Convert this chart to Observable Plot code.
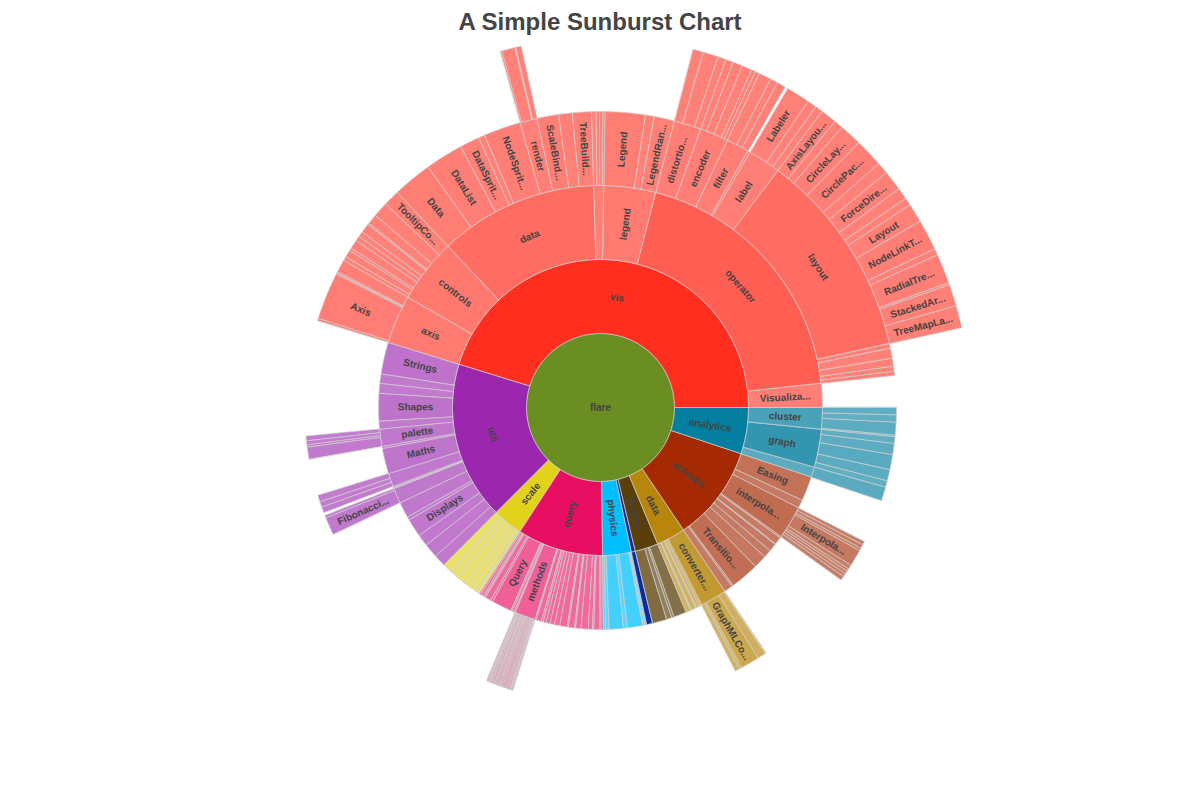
<!DOCTYPE html>
<html><head><meta charset="utf-8">
<script src="https://cdn.jsdelivr.net/npm/d3@7"></script>
<script src="https://cdn.jsdelivr.net/npm/@observablehq/plot@0.6"></script>
<style>
body{margin:0;background:#fff;font-family:"Liberation Sans",Arial,sans-serif;}
#title{height:44px;line-height:44px;text-align:center;font-size:24px;font-weight:bold;color:#444;}
</style></head><body>
<div id="title">A Simple Sunburst Chart</div>
<div id="chart"></div>
<script>
const rootName = "flare";
const rootColor = "#6B8E23";
const categories = ["analytics","animate","data","display","flex","physics","query","scale","util","vis"];
const categoryColors = ["#047FA0","#A52A04","#B8860B","#5A3F08","#0C2C9E","#00BFFF","#E80E62","#E1D31B","#9B27AF","#FF2E1F"];

const analyticsItems = [
  ["cluster/AgglomerativeCluster",3938],["cluster/CommunityStructure",3812],["cluster/HierarchicalCluster",6714],["cluster/MergeEdge",743],
  ["graph/BetweennessCentrality",3534],["graph/LinkDistance",5731],["graph/MaxFlowMinCut",7840],["graph/ShortestPaths",5914],["graph/SpanningTree",3416],
  ["optimization/AspectRatioBanker",7074]];
const animateItems = [
  ["Easing",17010],["FunctionSequence",5842],
  ["interpolate/ArrayInterpolator",1983],["interpolate/ColorInterpolator",2047],["interpolate/DateInterpolator",1375],["interpolate/Interpolator",8746],["interpolate/MatrixInterpolator",2202],["interpolate/NumberInterpolator",1382],["interpolate/ObjectInterpolator",1629],["interpolate/PointInterpolator",1675],["interpolate/RectangleInterpolator",2042],
  ["ISchedulable",1041],["Parallel",5176],["Pause",449],["Scheduler",5593],["Sequence",5534],["Transition",9201],["Transitioner",19975],["TransitionEvent",1116],["Tween",6006]];
const dataItems = [
  ["converters/Converters",721],["converters/DelimitedTextConverter",4294],["converters/GraphMLConverter",9800],["converters/IDataConverter",1314],["converters/JSONConverter",2220],
  ["DataField",1759],["DataSchema",2165],["DataSet",586],["DataSource",3331],["DataTable",772],["DataUtil",3322]];
const displayItems = [["DirtySprite",8833],["LineSprite",1732],["RectSprite",3623],["TextSprite",10066]];
const flexItems = [["FlareVis",4116]];
const physicsItems = [["DragForce",1082],["GravityForce",1336],["IForce",319],["NBodyForce",10498],["Particle",2822],["Simulation",9983],["Spring",2213],["SpringForce",1681]];
const queryItems = [
  ["AggregateExpression",1616],["And",1027],["Arithmetic",3891],["Average",891],["BinaryExpression",2893],["Comparison",5103],["CompositeExpression",3677],["Count",781],["DateUtil",4141],["Distinct",933],["Expression",5130],["ExpressionIterator",3617],["Fn",3240],["If",2732],["IsA",2039],["Literal",1214],["Match",3748],["Maximum",843],
  ["methods/add",593],["methods/and",330],["methods/average",287],["methods/count",277],["methods/distinct",292],["methods/div",595],["methods/eq",594],["methods/fn",460],["methods/gt",603],["methods/gte",625],["methods/iff",748],["methods/isa",461],["methods/lt",597],["methods/lte",619],["methods/max",283],["methods/min",283],["methods/mod",591],["methods/mul",603],["methods/neq",599],["methods/not",386],["methods/or",323],["methods/orderby",307],["methods/range",772],["methods/select",296],["methods/stddev",363],["methods/sub",600],["methods/sum",280],["methods/update",307],["methods/variance",335],["methods/where",299],["methods/xor",354],["methods/_",264],
  ["Minimum",843],["Not",1554],["Or",970],["Query",13896],["Range",1594],["StringUtil",4130],["Sum",791],["Variable",1124],["Variance",1876],["Xor",1101]];
const scaleItems = [["IScaleMap",2105],["LinearScale",1316],["LogScale",3151],["OrdinalScale",3770],["QuantileScale",2435],["QuantitativeScale",4839],["RootScale",1756],["Scale",4268],["ScaleType",1821],["TimeScale",5833]];
const utilItems = [
  ["Arrays",8258],["Colors",10001],["Dates",8217],["Displays",12555],["Filter",2324],["Geometry",10993],
  ["heap/FibonacciHeap",9354],["heap/HeapNode",1233],
  ["IEvaluable",335],["IPredicate",383],["IValueProxy",874],
  ["math/DenseMatrix",3165],["math/IMatrix",2815],["math/SparseMatrix",3366],
  ["Maths",17705],["Orientation",1486],
  ["palette/ColorPalette",6367],["palette/Palette",1229],["palette/ShapePalette",2059],["palette/SizePalette",2291],
  ["Property",5559],["Shapes",19118],["Sort",6887],["Stats",6557],["Strings",22026]];
const visItems = [
  ["axis/Axes",1302],["axis/Axis",24593],["axis/AxisGridLine",652],["axis/AxisLabel",636],["axis/CartesianAxes",6703],
  ["controls/AnchorControl",2138],["controls/ClickControl",3824],["controls/Control",1353],["controls/ControlList",4665],["controls/DragControl",2649],["controls/ExpandControl",2832],["controls/HoverControl",4896],["controls/IControl",763],["controls/PanZoomControl",5222],["controls/SelectionControl",7862],["controls/TooltipControl",8435],
  ["data/Data",20544],["data/DataList",19788],["data/DataSprite",10349],["data/EdgeSprite",3301],["data/NodeSprite",19382],
  ["data/render/ArrowType",698],["data/render/EdgeRenderer",5569],["data/render/IRenderer",353],["data/render/ShapeRenderer",2247],
  ["data/ScaleBinding",11275],["data/Tree",7147],["data/TreeBuilder",9930],
  ["events/DataEvent",2313],["events/SelectionEvent",1880],["events/TooltipEvent",1701],["events/VisualizationEvent",1117],
  ["legend/Legend",20859],["legend/LegendItem",4614],["legend/LegendRange",10530],
  ["operator/distortion/BifocalDistortion",4461],["operator/distortion/Distortion",6314],["operator/distortion/FisheyeDistortion",3444],
  ["operator/encoder/ColorEncoder",3179],["operator/encoder/Encoder",4060],["operator/encoder/PropertyEncoder",4138],["operator/encoder/ShapeEncoder",1690],["operator/encoder/SizeEncoder",1830],
  ["operator/filter/FisheyeTreeFilter",5219],["operator/filter/GraphDistanceFilter",3165],["operator/filter/VisibilityFilter",3509],
  ["operator/IOperator",1286],
  ["operator/label/Labeler",9956],["operator/label/RadialLabeler",3899],["operator/label/StackedAreaLabeler",3202],
  ["operator/layout/AxisLayout",6725],["operator/layout/BundledEdgeRouter",3727],["operator/layout/CircleLayout",9317],["operator/layout/CirclePackingLayout",12003],["operator/layout/DendrogramLayout",4853],["operator/layout/ForceDirectedLayout",8411],["operator/layout/IcicleTreeLayout",4864],["operator/layout/IndentedTreeLayout",3174],["operator/layout/Layout",7881],["operator/layout/NodeLinkTreeLayout",12870],["operator/layout/PieLayout",2728],["operator/layout/RadialTreeLayout",12348],["operator/layout/RandomLayout",870],["operator/layout/StackedAreaLayout",9121],["operator/layout/TreeMapLayout",9191],
  ["operator/Operator",2490],["operator/OperatorList",5248],["operator/OperatorSequence",4190],["operator/OperatorSwitch",2581],["operator/SortOperator",2023],
  ["Visualization",16540]];
const groupItems = [analyticsItems, animateItems, dataItems, displayItems, flexItems, physicsItems, queryItems, scaleItems, utilItems, visItems];

// build hierarchy
function buildTree() {
  const root = {name: rootName, children: []};
  categories.forEach((cat, i) => {
    const node = {name: cat, children: []};
    root.children.push(node);
    for (const [path, size] of groupItems[i]) {
      const parts = path.split("/");
      let cur = node;
      parts.forEach((p, j) => {
        if (j === parts.length - 1) cur.children.push({name: p, value: size});
        else {
          let c = cur.children.find(d => d.name === p && d.children);
          if (!c) { c = {name: p, children: []}; cur.children.push(c); }
          cur = c;
        }
      });
    }
  });
  return root;
}
const hier = d3.hierarchy(buildTree()).sum(d => d.value || 0);
d3.partition().size([2 * Math.PI, hier.height + 1])(hier);

const ring = 74;
function colorOf(n) {
  if (n.depth === 0) return rootColor;
  const top = n.ancestors().find(d => d.depth === 1);
  const base = categoryColors[categories.indexOf(top.data.name)];
  if (n.depth === 1) return base;
  const k = 0.4 - 0.4 * n.value / top.value;
  return d3.interpolateRgb(base, "#ffffff")(k);
}
function norm(deg) {
  let r = ((deg % 360) + 360) % 360;
  if (r > 90 && r < 270) r -= 180;
  else if (r >= 270) r -= 360;
  return r;
}

const polys = [];
const labels = [];
hier.descendants().forEach((n, idx) => {
  const fill = colorOf(n);
  const r0 = n.y0 * ring, r1 = n.y1 * ring;
  const span = n.x1 - n.x0;
  const steps = Math.max(2, Math.ceil(span / 0.01));
  for (let s = 0; s <= steps; s++) {
    const a = n.x0 + span * s / steps;
    polys.push({id: idx, x: r1 * Math.cos(a), y: -r1 * Math.sin(a), fill});
  }
  if (r0 > 0) for (let s = steps; s >= 0; s--) {
    const a = n.x0 + span * s / steps;
    polys.push({id: idx, x: r0 * Math.cos(a), y: -r0 * Math.sin(a), fill});
  }
  const name = n.data.name;
  if (n.depth === 0) { labels.push({x: 0, y: 0, text: name, rotate: 0}); return; }
  const a = (n.x0 + n.x1) / 2, rm = (r0 + r1) / 2;
  const tangential = span * r0 > ring;
  if (!tangential && span * rm < 14) return;
  const deg = a * 180 / Math.PI;
  labels.push({
    x: rm * Math.cos(a), y: -rm * Math.sin(a),
    text: name.length > 9 ? name.slice(0, 9) + "..." : name,
    rotate: tangential ? norm(deg + 90) : norm(deg)
  });
});

const W = 1200, H = 756, cy = 363;
const chart = Plot.plot({
  width: W, height: H, margin: 0,
  x: {domain: [-W / 2, W / 2], axis: null},
  y: {domain: [cy - H, cy], axis: null},
  color: {type: "identity"},
  style: {fontFamily: "'Liberation Sans', Arial, sans-serif", background: "#fff"},
  marks: [
    Plot.line(polys, {x: "x", y: "y", z: "id", fill: "fill", stroke: "#cfcfcf", strokeWidth: 0.7, curve: "linear-closed"}),
    Plot.text(labels, {x: "x", y: "y", text: "text", rotate: "rotate", fill: "#444", fontSize: 10, fontWeight: "bold"})
  ]
});
document.getElementById("chart").appendChild(chart);
</script>
</body></html>
